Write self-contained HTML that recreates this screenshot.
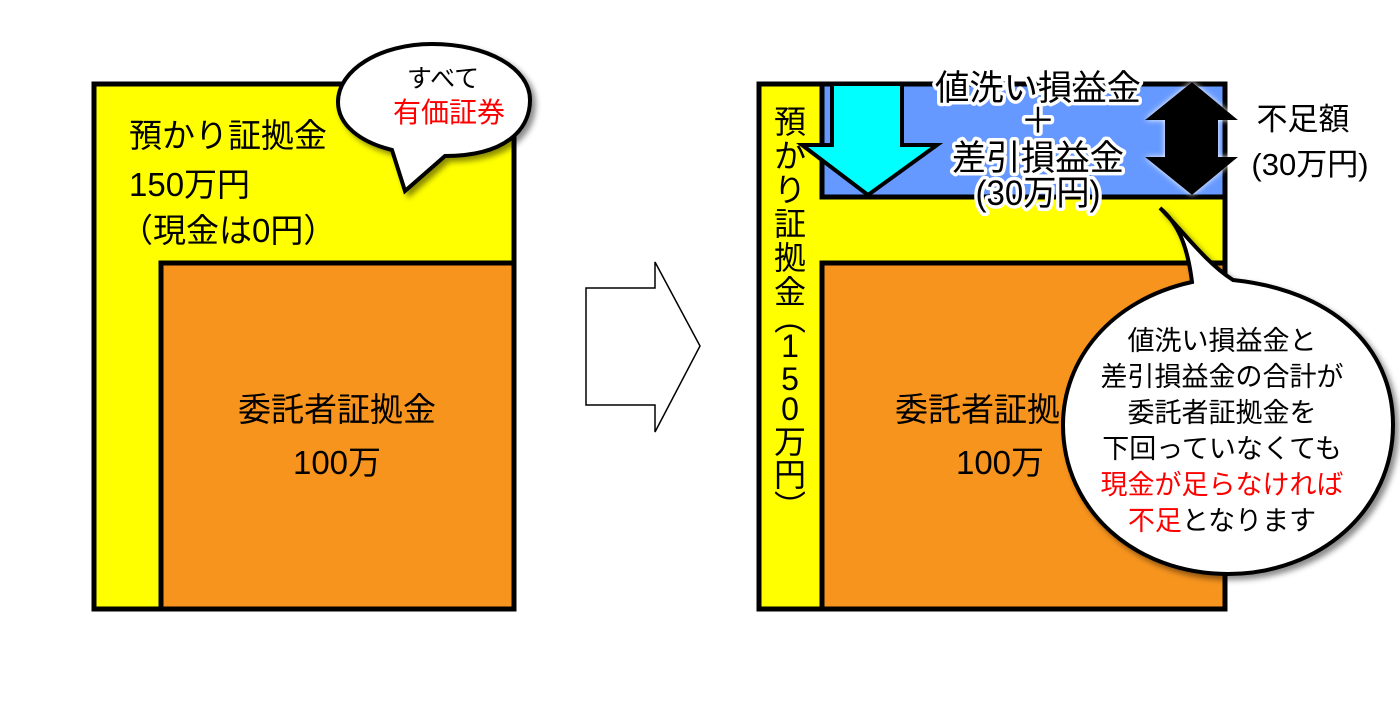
<!DOCTYPE html>
<html><head><meta charset="utf-8"><style>
body{margin:0;background:#fff}
svg text{font-family:"Liberation Sans","Noto Sans CJK JP",sans-serif}
</style></head><body>
<svg width="1400" height="700" viewBox="0 0 1400 700" xmlns="http://www.w3.org/2000/svg">
<defs>
<filter id="sh" x="-20%" y="-20%" width="150%" height="150%"><feDropShadow dx="4" dy="4" stdDeviation="3" flood-opacity="0.45"/></filter>
<filter id="glow" x="-30%" y="-30%" width="160%" height="160%"><feDropShadow dx="0" dy="0" stdDeviation="3" flood-color="#fff" flood-opacity="1"/></filter>
</defs>
<!-- Left box -->
<rect x="94" y="84" width="420" height="525" fill="#ffff00" stroke="#000" stroke-width="5"/>
<rect x="161" y="263" width="353" height="346" fill="#f7941e" stroke="#000" stroke-width="5"/>
<text x="129" y="147" font-size="33" font-family="Noto Sans CJK JP">預かり証拠金</text>
<text x="129" y="196" font-size="33">150万円</text>
<text x="120" y="242" font-size="33">（現金は0円）</text>
<text x="337" y="421" font-size="33" text-anchor="middle">委託者証拠金</text>
<text x="337" y="474" font-size="33" text-anchor="middle">100万</text>
<!-- small bubble -->
<path d="M432 44 C380 44 338 70 338 102 C338 125 360 142 392 150 L405 191 L445 156 C505 156 530 130 530 100 C530 68 487 44 432 44 Z" fill="#fff" stroke="#000" stroke-width="4" filter="url(#sh)"/>
<text x="443" y="87" font-size="25" text-anchor="middle">すべて</text>
<text x="449" y="122" font-size="28" text-anchor="middle" fill="#f00">有価証券</text>
<!-- hollow arrow -->
<path d="M586 288 L655 288 L655 262 L700 346 L655 432 L655 405 L586 405 Z" fill="#fff" stroke="#000" stroke-width="1.5"/>
<!-- Right box -->
<rect x="759" y="84" width="466" height="525" fill="#ffff00" stroke="#000" stroke-width="5"/>
<rect x="822" y="84" width="403" height="113" fill="#6699ff" stroke="#000" stroke-width="5"/>
<rect x="822" y="263" width="403" height="346" fill="#f7941e" stroke="#000" stroke-width="5"/>
<rect x="759" y="84" width="466" height="525" fill="none" stroke="#000" stroke-width="5"/>
<!-- cyan arrow -->
<path d="M832 84 L902 84 L902 145 L937 145 L868 195 L802 145 L832 145 Z" fill="#00ffff" stroke="#000" stroke-width="4"/>
<!-- black double arrow -->
<path d="M1192 82 L1238 120 L1218 120 L1218 157 L1238 157 L1192 195 L1145 157 L1165 157 L1165 120 L1145 120 Z" fill="#000" filter="url(#glow)"/>
<g font-size="35" text-anchor="middle" stroke="#fff" stroke-width="7" stroke-linejoin="round" paint-order="stroke" fill="#000">
<text x="1038" y="100" textLength="206" lengthAdjust="spacingAndGlyphs">値洗い損益金</text>
<text x="1038" y="133">＋</text>
<text x="1038" y="170" textLength="172" lengthAdjust="spacingAndGlyphs">差引損益金</text>
<text x="1038" y="205" textLength="125" lengthAdjust="spacingAndGlyphs">(30万円)</text>
</g>
<text x="1303" y="130" font-size="31" text-anchor="middle">不足額</text>
<text x="1310" y="175" font-size="31" text-anchor="middle">(30万円)</text>
<text x="895" y="421" font-size="33">委託者証拠</text>
<text x="1000" y="474" font-size="33" text-anchor="middle">100万</text>
<!-- vertical text -->
<g font-size="32" text-anchor="middle">
<text x="790" y="133">預</text>
<text x="790" y="167">か</text>
<text x="790" y="201">り</text>
<text x="790" y="235">証</text>
<text x="790" y="269">拠</text>
<text x="790" y="303">金</text>
<text x="790" y="330">︵</text>
<text x="790" y="357">1</text>
<text x="790" y="390">5</text>
<text x="790" y="420">0</text>
<text x="790" y="453">万</text>
<text x="790" y="486">円</text>
<text x="790" y="518">︶</text>
</g>
<!-- big bubble -->
<path d="M1160 208 C1180 225 1188 250 1192 282 C1110 300 1063 360 1063 425 C1063 510 1135 574 1228 574 C1320 574 1393 510 1393 425 C1393 345 1330 290 1233 280 C1205 262 1182 230 1160 208 Z" fill="#fff" stroke="#000" stroke-width="4" filter="url(#sh)"/>
<g font-size="27" text-anchor="middle">
<text x="1222" y="350">値洗い損益金と</text>
<text x="1222" y="386">差引損益金の合計が</text>
<text x="1222" y="422">委託者証拠金を</text>
<text x="1222" y="458">下回っていなくても</text>
<text x="1222" y="494" fill="#f00">現金が足らなければ</text>
<text x="1222" y="530"><tspan fill="#f00">不足</tspan>となります</text>
</g>
</svg>
</body></html>
